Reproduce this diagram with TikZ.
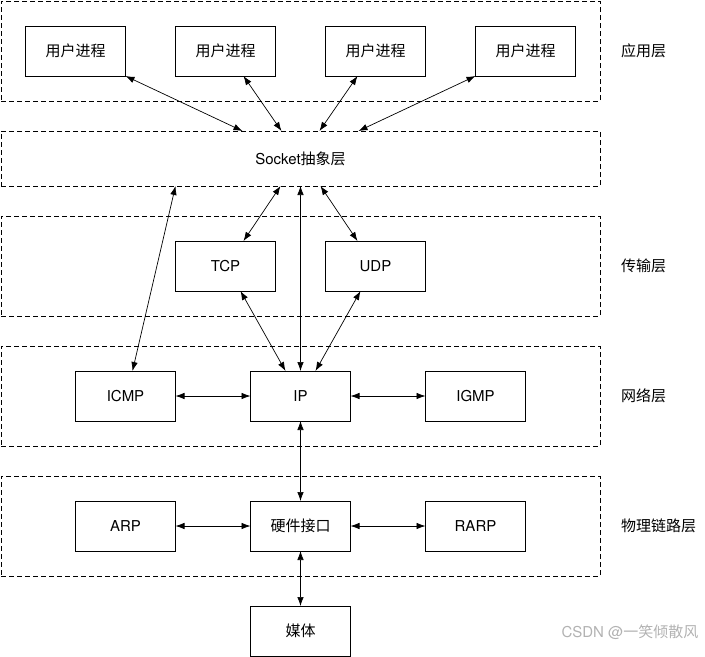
\documentclass[tikz,border=0pt]{standalone}
\usepackage{fontspec}
\setmainfont{TeX Gyre Heros}
\newfontfamily\cjk{Noto Sans CJK SC}
\usetikzlibrary{arrows.meta, positioning}

\begin{document}
\begin{tikzpicture}[x=1pt, y=1pt, font=\fontsize{15}{18}\selectfont,
	box/.style={draw, line width=0.8pt, minimum width=100pt, minimum height=50pt, inner sep=0pt, outer sep=0pt},
	layer/.style={draw, line width=0.8pt, dash pattern=on 5pt off 3pt, minimum width=599pt, minimum height=100pt, inner sep=0pt, outer sep=0pt},
	tag/.style={inner sep=0pt},
	link/.style={{Latex[length=9pt,width=6.5pt]}-{Latex[length=9pt,width=6.5pt]}, line width=0.7pt}]
	
	\useasboundingbox (0,0.5) rectangle (705,-656);
	
	% layers
	\node[layer] (App) at (300.5,-50.5) {};
	\node[layer, minimum height=55pt, below=30pt of App] (Sock) {Socket\cjk 抽象层};
	\node[layer, below=30pt of Sock] (Trans) {};
	\node[layer, below=30pt of Trans] (Net) {};
	\node[layer, below=30pt of Net] (Link) {};
	
	\node[tag, right=21pt of App] 	{\cjk 应用层};
	\node[tag, right=21pt of Trans] {\cjk 传输层};
	\node[tag, right=21pt of Net] 	{\cjk 网络层};
	\node[tag, right=21pt of Link] 	{\cjk 物理链路层};
	
	% application
	\node[box] (P1) at (75.5,-50.5) 	{\cjk 用户进程};
	\node[box, right=50pt of P1] (P2) 	{\cjk 用户进程};
	\node[box, right=50pt of P2] (P3) 	{\cjk 用户进程};
	\node[box, right=50pt of P3] (P4) 	{\cjk 用户进程};
	
	% transport
	\node[box, xshift=-75pt] (TCP) at (Trans) 	{TCP};
	\node[box, xshift=75pt] (UDP) at (Trans) 	{UDP};
	
	% network
	\node[box] (IP) at (Net) 				{IP};
	\node[box, left=75pt of IP] (ICMP) 		{ICMP};
	\node[box, right=75pt of IP] (IGMP) 	{IGMP};
	
	% link
	\node[box] (HW) at (Link) 				{\cjk 硬件接口};
	\node[box, left=75pt of HW] (ARP) 		{ARP};
	\node[box, right=75pt of HW] (RARP) 	{RARP};
	\node[box, below=55pt of HW] (Media) 	{\cjk 媒体};
	
	\node[anchor=east, text=black!30] (Mark) at (702,-632) {CSDN @\cjk 一笑倾散风};
	
	\draw[link] (P1.south east) -- ([xshift=-58pt]Sock.north);
	\draw[link] ([xshift=18pt]P2.south) -- ([xshift=-19pt]Sock.north);
	\draw[link] ([xshift=-18pt]P3.south) -- ([xshift=19pt]Sock.north);
	\draw[link] (P4.south west) -- ([xshift=58pt]Sock.north);
	
	\draw[link] ([xshift=-125pt]Sock.south) -- ([xshift=7pt]ICMP.north);
	\draw[link] ([xshift=-20pt]Sock.south) -- ([xshift=18pt]TCP.north);
	\draw[link] ([xshift=20pt]Sock.south) -- ([xshift=-18pt]UDP.north);
	\draw[link] (Sock.south) -- (IP.north);
	\draw[link] ([xshift=15pt]TCP.south) -- ([xshift=-15pt]IP.north);
	\draw[link] ([xshift=-15pt]UDP.south) -- ([xshift=15pt]IP.north);
	
	\draw[link] (ICMP) -- (IP);
	\draw[link] (IP) -- (IGMP);
	\draw[link] (IP) -- (HW);
	\draw[link] (ARP) -- (HW);
	\draw[link] (HW) -- (RARP);
	\draw[link] (HW) -- (Media);
\end{tikzpicture}
\end{document}
